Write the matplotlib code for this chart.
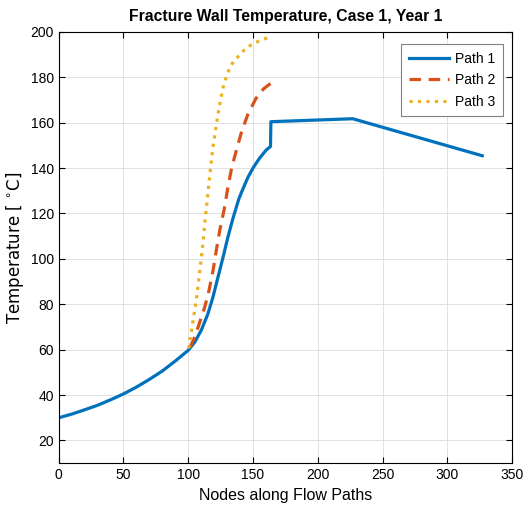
import numpy as np
import matplotlib
matplotlib.use("Agg")
import matplotlib.pyplot as plt

plt.rcParams['font.family'] = ['Liberation Sans', 'DejaVu Sans']

# values
path1_x = [0, 10, 20, 30, 40, 50, 60, 70, 80, 90, 100, 105, 110, 115, 119, 123,
           127, 130.5, 134.3, 139, 142, 146, 150, 155, 160, 163.5, 163.8, 227, 327]
path1_y = [30, 31.6, 33.5, 35.5, 37.9, 40.5, 43.5, 46.9, 50.6, 55, 59.7, 63.3,
           68.5, 75.5, 83, 92, 101, 109.3, 117.4, 126.3, 130.5, 135.8, 140, 144.3,
           147.8, 149.5, 160.4, 161.7, 145.4]

path2_x = [101.3, 105, 107.6, 112.7, 116, 119.1, 121.6, 124.2, 128, 130.5, 133.5,
           136.9, 141.2, 145.8, 152.2, 158, 163.5]
path2_y = [61, 65.5, 69.9, 78.7, 86, 94.7, 103.5, 112.2, 122.5, 131.2, 140,
           147.3, 156, 163.3, 170.6, 174.8, 177.2]

path3_x = [100.3, 103.8, 106.5, 109, 111, 113, 115.2, 117, 119, 121, 122.9, 124.8,
           126.7, 129, 131.8, 135, 139.4, 144, 150, 157, 163.6]
path3_y = [60.5, 73, 83, 95, 105, 117, 129, 139, 148.8, 156.5, 163.4, 169.5,
           175, 179.5, 183.8, 187, 189.6, 192.5, 194.8, 196.5, 197.8]

xticks = np.arange(0, 351, 50)
yticks = np.arange(20, 201, 20)


def main():
    fig = plt.figure(figsize=(5.29, 5.21), dpi=100)
    ax = fig.add_axes([0.111, 0.111, 0.857, 0.828])

    ax.plot(path1_x, path1_y, color='#0072BD', lw=2.3, label='Path 1')
    ax.plot(path2_x, path2_y, color='#D95319', lw=2.3, dashes=(3.6, 2.4), label='Path 2')
    ax.plot(path3_x, path3_y, color='#EDB120', lw=2.3, linestyle=':', label='Path 3')

    ax.set_xlim(0, 350)
    ax.set_ylim(10, 200)
    ax.set_xticks(xticks)
    ax.set_yticks(yticks)
    ax.tick_params(direction='in', top=True, right=True, labelsize=10, length=4, width=0.8)
    ax.grid(True, color='#dcdcdc', lw=0.6)
    ax.set_axisbelow(True)
    for s in ax.spines.values():
        s.set_linewidth(0.8)

    ax.set_title("Fracture Wall Temperature, Case 1, Year 1", fontsize=11.3,
                 fontweight='bold', pad=8)
    ax.set_xlabel("Nodes along Flow Paths", fontsize=11.5)
    ax.set_ylabel("Temperature [ $^{\\circ}$C]", fontsize=12, family='DejaVu Sans',
                  labelpad=3)

    leg = ax.legend(loc='upper right', bbox_to_anchor=(0.995, 0.988), fontsize=10,
                    fancybox=False, framealpha=1, edgecolor='#808080',
                    handlelength=2.9, borderpad=0.55, labelspacing=0.55,
                    handletextpad=0.4)
    leg.get_frame().set_linewidth(0.8)

    fig.savefig("out.png", dpi=100)


if __name__ == '__main__':
    main()
